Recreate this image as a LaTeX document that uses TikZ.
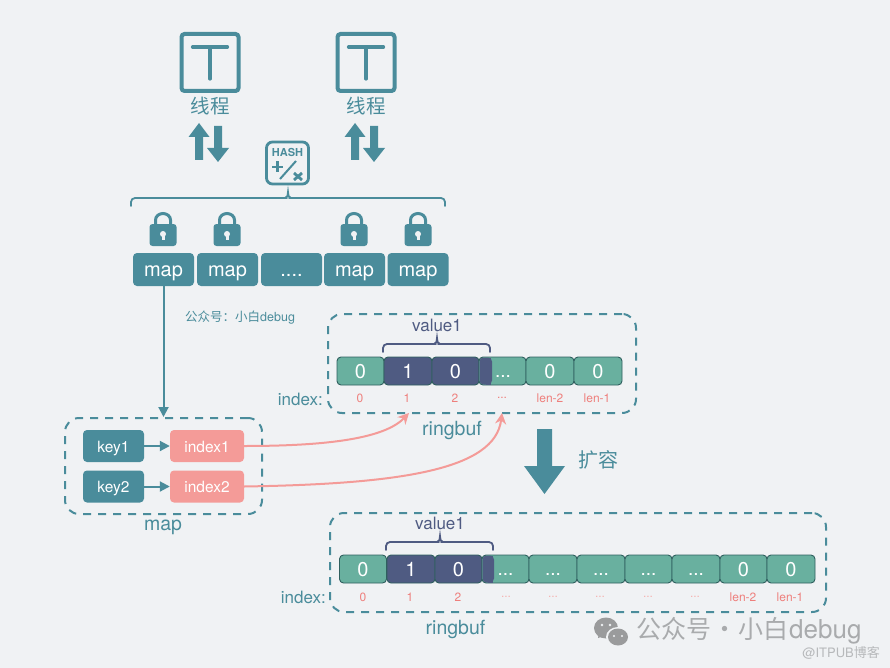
\documentclass[tikz,border=0pt]{standalone}
\usepackage{fontspec}
\setmainfont{TeX Gyre Heros}
\newfontfamily\cjk{Noto Sans CJK SC}
\usetikzlibrary{arrows.meta}
\definecolor{bgc}{HTML}{F0F2F4}
\definecolor{teal}{HTML}{4A8C9B}
\definecolor{cellg}{HTML}{69B09F}
\definecolor{cellline}{HTML}{2F5F5E}
\definecolor{navy}{HTML}{4F5B82}
\definecolor{pinkc}{HTML}{F49B98}
\definecolor{redt}{HTML}{EE7F7C}
\definecolor{wm}{HTML}{A9ABAD}
\definecolor{wmi}{HTML}{9A9B9C}
\definecolor{wmb}{HTML}{B7B9BB}
\tikzset{
  tealbox/.style={fill=teal,rounded corners=4pt,text=white,inner sep=0pt,font=\fontsize{20}{20}\selectfont,text height=15pt,text depth=1pt},
  mapbox/.style={tealbox,minimum height=33pt},
  keybox/.style={tealbox,minimum width=61pt,minimum height=32pt,font=\fontsize{15.5}{15.5}\selectfont,text height=12pt,text depth=0pt},
  idxbox/.style={keybox,fill=pinkc,minimum width=74pt},
  cellbox/.style={draw=cellline,line width=0.9pt,fill=cellg,rounded corners=4pt,text=white,inner sep=0pt,minimum height=28pt,font=\fontsize{20}{20}\selectfont,text height=15pt,text depth=1pt},
  navybox/.style={cellbox,fill=navy},
  dotstxt/.style={inner sep=0pt,text=white,font=\fontsize{19}{19}\selectfont,text height=12pt,text depth=0pt},
  dashbox/.style={draw=teal,line width=2pt,dash pattern=on 8pt off 7pt,rounded corners=14pt,inner sep=0pt},
  idxlab/.style={text=redt,inner sep=0pt,font=\fontsize{12}{12}\selectfont},
  caption/.style={inner sep=0pt,text=teal,font=\fontsize{19.5}{19.5}\selectfont},
  indextxt/.style={anchor=east,inner sep=0pt,text=teal,font=\fontsize{17}{17}\selectfont},
  valuetxt/.style={inner sep=0pt,text=navy,font=\fontsize{17}{17}\selectfont},
  threadbox/.style={draw=teal,line width=4pt,rounded corners=3pt,minimum size=57pt,inner sep=0pt},
  threadtxt/.style={inner sep=0pt,text=teal,font=\cjk\fontsize{19.5}{19.5}\selectfont},
  tealarrow/.style={draw=teal,line width=2pt,-{Triangle[length=10pt,width=10pt]}},
  pinkarrow/.style={draw=pinkc,line width=2pt,-{Stealth[length=11pt,width=11pt]}},
}
\newcommand{\threadicon}[2]{%
  \node[threadbox] (#2) at (#1,62.5) {};
  \draw[teal,line width=3.2pt,line cap=round] (#1-17.5,47)--(#1+17.5,47) (#1,47)--(#1,79);
  \node[threadtxt] (#2txt) at (#1,106) {线程};
  \fill[teal] (#1-15,160)--(#1-15,137)--(#1-21.5,137)--(#1-11,123)--(#1-0.5,137)--(#1-7,137)--(#1-7,160)--cycle;
  \fill[teal] (#1+4,126)--(#1+12,126)--(#1+12,148)--(#1+19,148)--(#1+8,162)--(#1-3,148)--(#1+4,148)--cycle;
}
\newcommand{\lockicon}[1]{%
  \draw[teal,line width=3pt] (#1-7.5,226)--(#1-7.5,220) arc[start angle=180,end angle=360,x radius=7.5,y radius=6.5]--(#1+7.5,226);
  \fill[teal,rounded corners=3pt] (#1-13.5,224) rectangle (#1+13.5,246);
  \fill[bgc] (#1,234) circle (3);
  \fill[bgc] (#1-1.5,234)--(#1+1.5,234)--(#1+1.5,240)--(#1-1.5,240)--cycle;
}
\newcommand{\mybrace}[5]{%
  \draw[#5,line width=1.8pt,line cap=round,rounded corners=4pt] (#1,#4+14)--(#1,#4+6)--(#3-1,#4+6);
  \draw[#5,line width=1.8pt,line cap=round,rounded corners=4pt] (#2,#4+14)--(#2,#4+6)--(#3+1,#4+6);
  \draw[#5,line width=1.8pt,line cap=round] (#3-3,#4+6) .. controls (#3-0.5,#4+6) and (#3,#4+3) .. (#3,#4) .. controls (#3,#4+3) and (#3+0.5,#4+6) .. (#3+3,#4+6);
}
\begin{document}
\begin{tikzpicture}[x=1pt,y=-1pt]
\useasboundingbox (0,0) rectangle (890,668);
\fill[bgc] (0,0) rectangle (890,668);

\threadicon{210}{ta}
\threadicon{366}{tb}

% hash icon
\node[draw=teal,line width=2.8pt,rounded corners=6pt,minimum size=42pt,inner sep=0pt] (hash) at (287.5,163) {};
\node[inner sep=0pt,text=teal,font=\bfseries\fontsize{11}{11}\selectfont] (hashtxt) at (287.5,152.5) {HASH};
\draw[teal,line width=2.6pt] (272,167)--(283,167) (277.5,161.5)--(277.5,172.5);
\draw[teal,line width=2pt] (280,179)--(296,161);
\draw[teal,line width=2.8pt] (294,173)--(302,180) (302,173)--(294,180);

\mybrace{131}{445}{288}{192}{teal}

\lockicon{163}
\lockicon{227}
\lockicon{354}
\lockicon{418}

\node[mapbox,minimum width=61pt] (m1) at (163.5,269.5) {map};
\node[mapbox,minimum width=61pt] (m2) at (227.5,269.5) {map};
\node[mapbox,minimum width=61pt] (m3) at (291.5,269.5) {....};
\node[mapbox,minimum width=61pt] (m4) at (354.5,269.5) {map};
\node[mapbox,minimum width=61pt] (m5) at (418,269.5) {map};

\node[anchor=west,inner sep=0pt,text=teal,font=\fontsize{12.5}{12.5}\selectfont] (note) at (185,318) {{\cjk 公众号：小白}debug};

% ringbuf 1
\node[dashbox,minimum width=308pt,minimum height=99pt] (rb1) at (482,363.5) {};
\node[valuetxt] (val1) at (437,325) {value1};
\mybrace{383}{490}{437}{338}{navy}
\node[cellbox,minimum width=47pt] (a0) at (360.5,371) {0};
\node[navybox,minimum width=48pt] (a1) at (408,371) {1};
\node[navybox,minimum width=47pt] (a2) at (455.5,371) {0};
\node[cellbox,minimum width=47pt] (a3) at (502.5,371) {};
\fill[navy,rounded corners=4pt] (479.5,357.5) rectangle (492,384.5);
\fill[navy] (486,357.5) rectangle (491,384.5);
\node[dotstxt] (a3t) at (503,371) {...};
\node[cellbox,minimum width=48pt] (a4) at (550,371) {0};
\node[cellbox,minimum width=48pt] (a5) at (598,371) {0};
\node[indextxt] (ix1) at (323,399) {index:};
\node[idxlab] (a0l) at (360,398) {0};
\node[idxlab] (a1l) at (407,398) {1};
\node[idxlab] (a2l) at (455,398) {2};
\node[idxlab] (a3l) at (502,398) {...};
\node[idxlab] (a4l) at (550,398) {len-2};
\node[idxlab] (a5l) at (597,398) {len-1};
\node[caption] (rbc1) at (452,430) {ringbuf};
\coordinate (tipA) at (409,413);
\coordinate (tipB) at (502,413);

% map dashed
\node[dashbox,minimum width=197pt,minimum height=96pt] (mp) at (163.5,466) {};
\node[keybox] (k1) at (113.5,446) {key1};
\node[keybox] (k2) at (113.5,486.5) {key2};
\node[idxbox] (i1) at (207,446) {index1};
\node[idxbox] (i2) at (207,486.5) {index2};
\node[caption] (mpc) at (163,527) {map};

\draw[tealarrow] (m1.south) -- (mp.north);
\draw[tealarrow] (k1) -- (i1);
\draw[tealarrow] (k2) -- (i2);
\draw[pinkarrow] (i1.east) .. controls (330,446) and (385,438) .. (tipA);
\draw[pinkarrow] (i2.east) .. controls (400,484) and (495,470) .. (tipB);

% big arrow
\fill[teal] (537,429)--(552,429)--(552,466)--(565,466)--(544.5,494)--(524,466)--(537,466)--cycle;
\node[inner sep=0pt,text=teal,font=\cjk\fontsize{20}{20}\selectfont] (expand) at (598,460) {扩容};

% ringbuf 2
\node[dashbox,minimum width=496pt,minimum height=99pt] (rb2) at (578,562.5) {};
\node[valuetxt] (val2) at (440,523) {value1};
\mybrace{386}{493}{440}{536}{navy}
\node[cellbox,minimum width=47pt] (b0) at (363,569) {0};
\node[navybox,minimum width=48pt] (b1) at (411,569) {1};
\node[navybox,minimum width=47pt] (b2) at (458.5,569) {0};
\node[cellbox,minimum width=47pt] (b3) at (505.5,569) {};
\fill[navy,rounded corners=4pt] (482.5,555.5) rectangle (494,582.5);
\fill[navy] (488,555.5) rectangle (493,582.5);
\node[dotstxt] (b3t) at (505.5,569) {...};
\node[cellbox,minimum width=48pt] (b4) at (553,569) {};
\node[dotstxt] (b4t) at (553,569) {...};
\node[cellbox,minimum width=48pt] (b5) at (601,569) {};
\node[dotstxt] (b5t) at (601,569) {...};
\node[cellbox,minimum width=47pt] (b6) at (648.5,569) {};
\node[dotstxt] (b6t) at (648.5,569) {...};
\node[cellbox,minimum width=48pt] (b7) at (696,569) {};
\node[dotstxt] (b7t) at (696,569) {...};
\node[cellbox,minimum width=47pt] (b8) at (743.5,569) {0};
\node[cellbox,minimum width=48pt] (b9) at (791,569) {0};
\node[indextxt] (ix2) at (326,597) {index:};
\node[idxlab] (b0l) at (363,597) {0};
\node[idxlab] (b1l) at (410,597) {1};
\node[idxlab] (b2l) at (458,597) {2};
\node[idxlab,text=redt!60] (b3l) at (506,597) {...};
\node[idxlab,text=redt!60] (b4l) at (553,597) {...};
\node[idxlab,text=redt!60] (b5l) at (600,597) {...};
\node[idxlab,text=redt!60] (b6l) at (648,597) {...};
\node[idxlab,text=redt!60] (b7l) at (695,597) {...};
\node[idxlab] (b8l) at (743,597) {len-2};
\node[idxlab] (b9l) at (790,597) {len-1};
\node[caption] (rbc2) at (455.5,629) {ringbuf};

% watermark
\fill[wmi] (606,628) ellipse (12 and 10.5);
\fill[wmi] (598,638)--(599,632)--(604,636)--cycle;
\fill[bgc] (618,637) ellipse (12 and 10);
\fill[wmi] (618,637) ellipse (10 and 8.5);
\fill[bgc] (602,625) circle (1.4) (610,625) circle (1.4) (614,636) circle (1.2) (622,636) circle (1.2);
\node[anchor=west,inner sep=0pt,text=wm] (wmt) at (636,631) {\fontsize{25}{25}\selectfont{\cjk 公众号\hspace{1pt}·\hspace{1pt}小白}\hspace{1pt}\fontsize{26}{26}\selectfont debug};
\node[anchor=east,inner sep=0pt,text=wmb,font=\fontsize{13}{13}\selectfont] (wmb) at (880,653) {@ITPUB{\cjk 博客}};
\end{tikzpicture}
\end{document}
